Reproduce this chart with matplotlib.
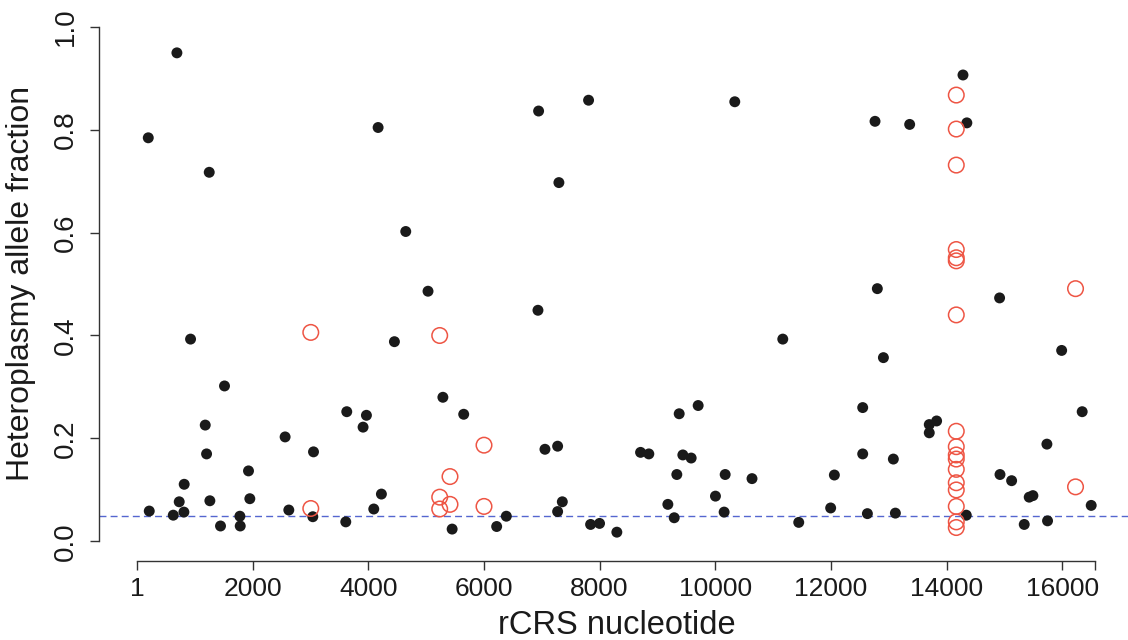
import matplotlib

matplotlib.use("Agg")
import matplotlib.pyplot as plt

plt.rcParams["font.family"] = ["Liberation Sans", "DejaVu Sans"]

# filled black points: heteroplasmies
black_pos = [196, 691, 213, 628, 731, 812, 817, 927, 1181, 1204, 1250, 1261, 1445, 1514,
             1780, 1786, 1929, 1952, 2562, 2626, 3041, 3053, 3611, 3628, 3910, 3968, 4095,
             4170, 4227, 4452, 4648, 5033, 5290, 5450, 5650, 6220, 6387, 6934, 6945, 7055,
             7274, 7274, 7296, 7355, 7809, 7844, 7999, 8298, 8708, 8851, 9180, 9290, 9335,
             9376, 9439, 9583, 9704, 10003, 10153, 10171, 10337, 10635, 11167, 11443, 11995,
             12059, 12549, 12549, 12630, 12762, 12802, 12907, 13079, 13114, 13361, 13700,
             13700, 13827, 14283, 14340, 14350, 14916, 14923, 15124, 15342, 15428, 15492,
             15734, 15745, 15989, 16344, 16500]
black_frac = [0.784, 0.949, 0.059, 0.051, 0.077, 0.057, 0.111, 0.393, 0.226, 0.170, 0.717,
              0.079, 0.030, 0.302, 0.049, 0.030, 0.137, 0.083, 0.203, 0.061, 0.048, 0.174,
              0.038, 0.252, 0.222, 0.245, 0.063, 0.804, 0.092, 0.388, 0.602, 0.486, 0.280,
              0.024, 0.247, 0.029, 0.049, 0.449, 0.836, 0.179, 0.185, 0.058, 0.697, 0.077,
              0.857, 0.033, 0.035, 0.018, 0.173, 0.170, 0.072, 0.046, 0.130, 0.248, 0.168,
              0.162, 0.264, 0.088, 0.057, 0.130, 0.854, 0.122, 0.393, 0.037, 0.065, 0.129,
              0.260, 0.170, 0.054, 0.816, 0.491, 0.357, 0.160, 0.055, 0.810, 0.227, 0.211,
              0.234, 0.906, 0.051, 0.813, 0.473, 0.130, 0.118, 0.033, 0.086, 0.089, 0.189,
              0.040, 0.371, 0.252, 0.070]

# open red circles
red_pos = [3006, 3006, 5235, 5235, 5235, 5413, 5413, 6001, 6001,
           14167, 14167, 14167, 14167, 14167, 14167, 14167, 14167, 14167,
           14167, 14167, 14167, 14167, 14167, 14167, 14167, 14167, 16229, 16229]
red_frac = [0.406, 0.064, 0.400, 0.086, 0.063, 0.126, 0.072, 0.187, 0.068,
            0.867, 0.801, 0.731, 0.567, 0.551, 0.545, 0.440, 0.214, 0.184,
            0.168, 0.160, 0.140, 0.114, 0.100, 0.068, 0.038, 0.027, 0.491, 0.106]

threshold = 0.05
genome_len = 16569
x_ticks = [1, 2000, 4000, 6000, 8000, 10000, 12000, 14000, 16000, genome_len]
x_labels = ["1", "2000", "4000", "6000", "8000", "10000", "12000", "14000", "16000", ""]
y_ticks = [0.0, 0.2, 0.4, 0.6, 0.8, 1.0]

fig = plt.figure(figsize=(11.28, 6.4), dpi=100)
ax = fig.add_axes([99 / 1128, 79 / 640, 1035 / 1128, 555 / 640])

ax.axhline(threshold, color="#5566D0", lw=1.0, ls=(0, (5, 3)), zorder=1)
ax.scatter(black_pos, black_frac, s=62, color="#1a1a1a", edgecolors="none", zorder=3)
ax.scatter(red_pos, red_frac, s=125, facecolors="none", edgecolors="#EE5544",
           linewidths=1.1, zorder=4)

ax.set_xlim(-656, 17240)
ax.set_ylim(-0.038, 1.04)

for side in ("top", "right"):
    ax.spines[side].set_visible(False)
for side in ("left", "bottom"):
    ax.spines[side].set_color("#333333")
    ax.spines[side].set_linewidth(1.0)
ax.spines["left"].set_bounds(0, 1)
ax.spines["bottom"].set_bounds(1, genome_len)

ax.set_xticks(x_ticks)
ax.set_xticklabels(x_labels)
ax.set_yticks(y_ticks)
ax.set_yticklabels([f"{v:.1f}" for v in y_ticks], rotation=90, va="center")
ax.tick_params(axis="both", direction="out", length=6.7, width=1.0, color="#333333",
               labelcolor="#1a1a1a")
ax.tick_params(axis="x", labelsize=19, pad=5)
ax.tick_params(axis="y", labelsize=20, pad=8)

ax.set_xlabel("rCRS nucleotide", fontsize=23.5, color="#1a1a1a", labelpad=6)
ax.set_ylabel("Heteroplasmy allele fraction", fontsize=23, color="#1a1a1a", labelpad=12)

fig.savefig("out.png", dpi=100)
plt.close(fig)
